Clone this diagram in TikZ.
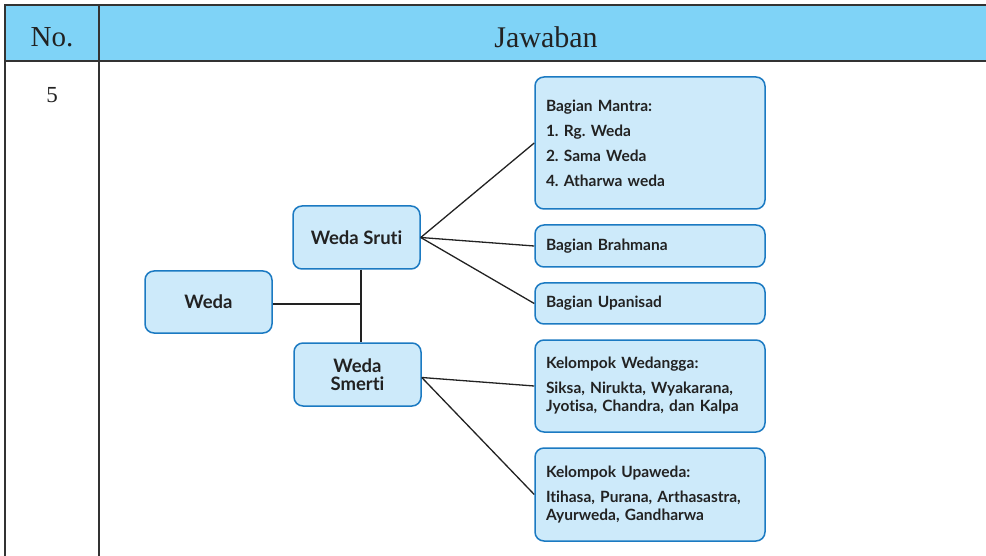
\documentclass[tikz,border=0pt]{standalone}
\usepackage{fontspec}
\setmainfont{Liberation Serif}
\newfontfamily\latofont{Lato}[Ligatures=NoCommon]
\definecolor{headblue}{HTML}{7FD3F7}
\definecolor{boxfill}{HTML}{CDEAFA}
\definecolor{boxline}{HTML}{1B7AC2}
\definecolor{txt}{HTML}{222222}
\definecolor{rule}{HTML}{333333}
\frenchspacing
\begin{document}
\begin{tikzpicture}[x=1pt,y=-1pt,
  wbox/.style={draw=boxline, fill=boxfill, line width=1.5pt, rounded corners=9pt,
    text=txt, inner sep=0pt},
  bigbox/.style={wbox, minimum width=127pt, minimum height=62pt, align=center,
    font=\latofont\bfseries\fontsize{18.5}{18}\selectfont},
  smallbox/.style={wbox, minimum width=230pt, text width=208pt, align=left,
    font=\latofont\bfseries\fontsize{15.5}{18}\selectfont},
  conn/.style={draw=txt, line width=1.3pt},
  tline/.style={draw=rule, line width=1.5pt}
]
\useasboundingbox (0,0) rectangle (986,556);
% table
\fill[headblue] (5,5) rectangle (986,61);
\draw[tline] (986,5) -- (5,5) -- (5,556);
\draw[tline] (5,61) -- (986,61);
\draw[tline] (99,5) -- (99,556);
\node[font=\fontsize{29}{30}\selectfont, text=txt] (hno) at (52,37) {No.};
\node[font=\fontsize{30}{30}\selectfont, text=txt] (hjaw) at (546,37) {Jawaban};
\node[font=\fontsize{23}{26}\selectfont, text=txt] (five) at (52,95) {5};
% main boxes
\node[bigbox] (weda) at (208.5,302) {\raisebox{-1pt}{Weda}};
\node[bigbox, minimum height=63pt] (sruti) at (356.5,237.5) {Weda Sruti};
\node[bigbox, minimum height=63pt] (smerti) at (357.5,374.5) {Weda\\Smerti};
% right boxes
\node[smallbox, minimum height=132pt] (mantra) at (650,143)
  {Bagian Mantra:\\[7pt]1. Rg. Weda\\[7pt]2. Sama Weda\\[7pt]4. Atharwa weda};
\node[smallbox, minimum height=42pt] (brah) at (650,246) {\raisebox{-3pt}{Bagian Brahmana}};
\node[smallbox, minimum height=41pt] (upan) at (650,303.5) {\raisebox{-3pt}{Bagian Upanisad}};
\node[smallbox, minimum height=92pt] (wedangga) at (650,386)
  {Kelompok Wedangga:\\[7pt]Siksa, Nirukta, Wyakarana,\\Jyotisa, Chandra, dan Kalpa};
\node[smallbox, minimum height=93pt] (upaweda) at (650,494.5)
  {Kelompok Upaweda:\\[7pt]Itihasa, Purana, Arthasastra,\\Ayurweda, Gandharwa};
% connectors
\coordinate (jn) at (361,304);
\coordinate (sr) at ([yshift=0pt]sruti.east);
\coordinate (sm) at ([yshift=-3pt]smerti.east);
\draw[conn] (weda.east |- jn) -- (jn);
\draw[conn] (sruti.south -| jn) -- (smerti.north -| jn);
\draw[conn] (sr) -- (mantra.west);
\draw[conn] (sr) -- (brah.west);
\draw[conn] (sr) -- (upan.west);
\draw[conn] (sm) -- (wedangga.west);
\draw[conn] (sm) -- (upaweda.west);
\end{tikzpicture}
\end{document}
